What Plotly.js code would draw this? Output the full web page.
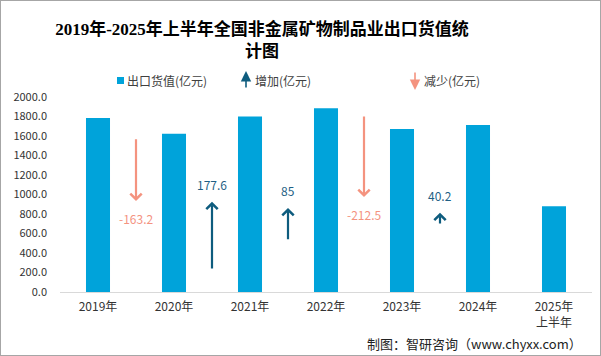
<!DOCTYPE html>
<html>
<head>
<meta charset="utf-8">
<script src="https://cdn.plot.ly/plotly-3.0.1.min.js"></script>
<style>
  html, body { margin: 0; padding: 0; background: #ffffff; }
  #chart { width: 599px; height: 354px; border: 1px solid #a6a6a6; }
</style>
</head>
<body>
<div id="chart"></div>
<script>
// ---- data ----
const years = ['2019年', '2020年', '2021年', '2022年', '2023年', '2024年', '2025年<br>上半年'];
const exportValue = [1785.0, 1621.8, 1799.4, 1884.4, 1671.9, 1712.1, 880.0];
const changes = [-163.2, 177.6, 85, -212.5, 40.2];
const changeLabels = ['-163.2', '177.6', '85', '-212.5', '40.2'];
// arrow tail / tip heights (value-axis units)
const arrowTail = [1583, 226, 526, 1815, 687];
const arrowTip = [933, 926, 862, 974, 813];

const BAR = '#00A3DA';
const UP = '#0E5C7E';
const UP_TXT = '#1F5F85';
const DOWN = '#F4937F';
const FONT = 'Noto Sans CJK SC, Noto Sans, sans-serif';

// layout helpers: page pixel -> paper fraction
const W = 599, H = 354, ML = 59, MR = 8, MT = 96, MB = 63;
const PW = W - ML - MR, PH = H - MT - MB;
const px = xp => (xp - 1 - ML) / PW;
const py = yp => (H - MB - (yp - 1)) / PH;

const traces = [{
  type: 'bar',
  x: years,
  y: exportValue,
  name: '出口货值(亿元)',
  marker: { color: BAR },
  showlegend: false,
  hoverinfo: 'x+y'
}];

const annotations = [];
changes.forEach((c, i) => {
  const up = c > 0;
  annotations.push({
    x: i + 0.5, y: arrowTip[i], xref: 'x', yref: 'y',
    ax: i + 0.5, ay: arrowTail[i], axref: 'x', ayref: 'y',
    text: '', showarrow: true, arrowhead: 4, arrowsize: 1, arrowwidth: 2.2,
    arrowcolor: up ? UP : DOWN, standoff: 0, startstandoff: 0
  });
  annotations.push({
    x: i + 0.5, y: arrowTip[i], xref: 'x', yref: 'y',
    xanchor: 'center', yanchor: 'middle',
    text: changeLabels[i], showarrow: false,
    yshift: up ? 17 : -17,
    font: { family: FONT, size: 12, color: up ? UP_TXT : DOWN }
  });
});

// legend (custom)
const legFont = { family: FONT, size: 12, color: '#404040' };
annotations.push({ xref: 'paper', yref: 'paper', x: px(125), y: py(80), xanchor: 'left', yanchor: 'middle', text: '出口货值(亿元)', showarrow: false, font: legFont });
annotations.push({ xref: 'paper', yref: 'paper', x: px(246), y: py(71), text: '', showarrow: true, ax: 0, ay: 18, arrowhead: 2, arrowsize: 1.3, arrowwidth: 1.6, arrowcolor: UP, standoff: 0 });
annotations.push({ xref: 'paper', yref: 'paper', x: px(253), y: py(80), xanchor: 'left', yanchor: 'middle', text: '增加(亿元)', showarrow: false, font: legFont });
annotations.push({ xref: 'paper', yref: 'paper', x: px(415), y: py(90), text: '', showarrow: true, ax: 0, ay: -19, arrowhead: 2, arrowsize: 1.3, arrowwidth: 1.6, arrowcolor: DOWN, standoff: 0 });
annotations.push({ xref: 'paper', yref: 'paper', x: px(422), y: py(80), xanchor: 'left', yanchor: 'middle', text: '减少(亿元)', showarrow: false, font: legFont });

// source
annotations.push({ xref: 'paper', yref: 'paper', x: px(584), y: py(343), xanchor: 'right', yanchor: 'middle', text: '制图：智研咨询（www.chyxx.com）', showarrow: false, font: { family: FONT, size: 13, color: '#222222' } });

const shapes = [
  { type: 'rect', xref: 'paper', yref: 'paper', x0: px(117), x1: px(124), y0: py(84), y1: py(77), fillcolor: BAR, line: { width: 0 } }
];

const layout = {
  width: W, height: H,
  margin: { l: ML, r: MR, t: MT, b: MB, pad: 0 },
  paper_bgcolor: '#ffffff', plot_bgcolor: '#ffffff',
  title: {
    text: '2019年-2025年上半年全国非金属矿物制品业出口货值统<br>计图',
    font: { family: 'Liberation Serif, Noto Sans CJK SC, serif', size: 17, color: '#000000', weight: 'bold' },
    xref: 'container', x: (262 - 1) / W, xanchor: 'center',
    yref: 'container', y: 1 - 34 / H, yanchor: 'top'
  },
  bargap: 0.684,
  showlegend: false,
  xaxis: {
    type: 'category', range: [-0.5, 6.5],
    showline: true, linecolor: '#D9D9D9', linewidth: 1,
    ticks: '', showgrid: false, zeroline: false,
    tickfont: { family: FONT, size: 12, color: '#333333' },
    ticklabelstandoff: 4
  },
  yaxis: {
    range: [0, 2000], dtick: 200, tick0: 0, tickformat: '.1f',
    showline: false, showgrid: false, zeroline: false, ticks: '',
    tickfont: { family: FONT, size: 11, color: '#333333' },
    ticklabelstandoff: 12
  },
  annotations: annotations,
  shapes: shapes
};

Plotly.newPlot('chart', traces, layout, { displayModeBar: false, staticPlot: true });
</script>
</body>
</html>
